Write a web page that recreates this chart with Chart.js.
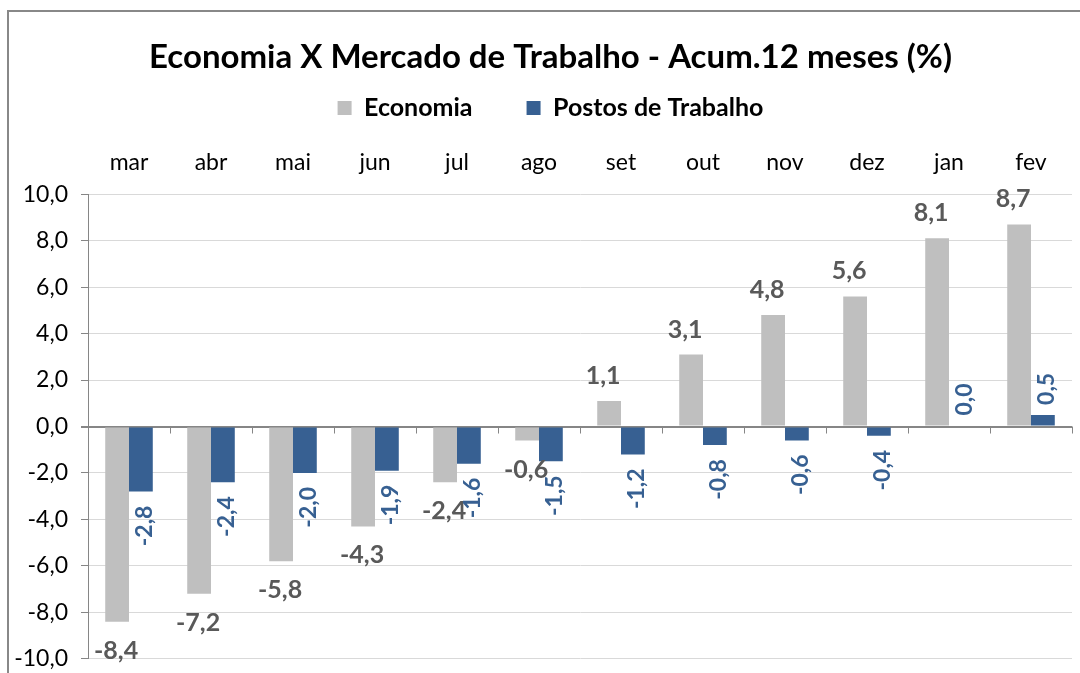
<!DOCTYPE html>
<html>
<head>
<meta charset="utf-8">
<script src="https://cdn.jsdelivr.net/npm/chart.js@4"></script>
<style>
  html, body { margin: 0; padding: 0; background: #fff; }
  #wrap { position: absolute; left: 0; top: 0; width: 1080px; height: 673px; }
  #frame { position: absolute; left: 7px; top: 10px; right: 0; bottom: 0; border-left: 2px solid #888; border-top: 2px solid #888; }
  canvas { position: absolute; left: 0; top: 0; }
</style>
</head>
<body>
<div id="wrap">
  <div id="frame"></div>
  <canvas id="chart" width="1080" height="673"></canvas>
</div>
<script>
const months = ["mar", "abr", "mai", "jun", "jul", "ago", "set", "out", "nov", "dez", "jan", "fev"];
const economia = [-8.4, -7.2, -5.8, -4.3, -2.4, -0.6, 1.1, 3.1, 4.8, 5.6, 8.1, 8.7];
const postos = [-2.8, -2.4, -2.0, -1.9, -1.6, -1.5, -1.2, -0.8, -0.6, -0.4, 0.04, 0.5];

const fmt = v => v.toFixed(1).replace('.', ',');
const FONT = 'Lato, "Open Sans", sans-serif';

// value labels and the small tick marks under the zero line
const extras = {
  id: 'extras',
  afterLayout(chart) {
    // y labels hang out to the left of the narrowed axis box, so widen its clip
    chart.scales.y.left = 0;
  },
  afterDatasetsDraw(chart) {
    const ctx = chart.ctx;
    const x = chart.scales.x, y = chart.scales.y;
    const y0 = y.getPixelForValue(0);

    ctx.save();
    ctx.strokeStyle = '#868686';
    ctx.lineWidth = 1;
    const step = (x.right - x.left) / months.length;
    for (let i = 1; i <= months.length; i++) {
      const px = Math.round(x.left + i * step) + 0.5;
      ctx.beginPath();
      ctx.moveTo(px, y0);
      ctx.lineTo(px, y0 + 7);
      ctx.stroke();
    }

    // economia
    ctx.font = 'bold 25px ' + FONT;
    ctx.fillStyle = '#595959';
    ctx.textAlign = 'center';
    ctx.textBaseline = 'middle';
    chart.getDatasetMeta(0).data.forEach((bar, i) => {
      const v = economia[i];
      if (v >= 0) ctx.fillText(fmt(v), bar.x - 6, bar.y - 25);
      else ctx.fillText(fmt(v), bar.x - 1, bar.y + 29);
    });

    // postos, rotated
    ctx.font = 'bold 23px ' + FONT;
    ctx.fillStyle = '#376092';
    chart.getDatasetMeta(1).data.forEach((bar, i) => {
      const v = postos[i];
      const t = fmt(v);
      const w = ctx.measureText(t).width;
      const cy = v >= 0 ? bar.y - 10 - w / 2 : bar.y + 14 + w / 2;
      ctx.save();
      ctx.translate(bar.x + 4, cy);
      ctx.rotate(-Math.PI / 2);
      ctx.fillText(t, 0, 0);
      ctx.restore();
    });
    ctx.restore();
  }
};

new Chart(document.getElementById('chart'), {
  type: 'bar',
  data: {
    labels: months,
    datasets: [
      { label: 'Economia', data: economia, backgroundColor: '#bfbfbf' },
      { label: 'Postos de Trabalho', data: postos, backgroundColor: '#376092' }
    ]
  },
  options: {
    responsive: false,
    animation: false,
    events: [],
    categoryPercentage: 0.58,
    barPercentage: 1.0,
    layout: { padding: { left: 29, right: 8, top: 38, bottom: -20 } },
    plugins: {
      title: {
        display: true,
        text: 'Economia X Mercado de Trabalho - Acum.12 meses (%)',
        color: '#000',
        font: { family: FONT, size: 33, weight: 'bold' },
        padding: { top: 0, bottom: -36 }
      },
      legend: {
        position: 'top',
        labels: {
          color: '#000',
          font: { family: FONT, size: 25, weight: 'bold' },
          boxWidth: 14,
          boxHeight: 14,
          padding: 54
        }
      },
      tooltip: { enabled: false }
    },
    scales: {
      x: {
        position: 'top',
        grid: { display: false, drawTicks: false },
        border: { display: false },
        title: { display: true, text: '', font: { size: 10 }, padding: { top: 0, bottom: -12 } },
        ticks: { color: '#000', font: { family: FONT, size: 23 }, padding: 18 }
      },
      y: {
        min: -10,
        max: 10,
        afterFit: scale => { scale.width = 59; },
        ticks: {
          stepSize: 2,
          color: '#000',
          font: { family: FONT, size: 23, lineHeight: 0.1 },
          padding: 13,
          callback: v => fmt(v)
        },
        grid: {
          color: ctx => ctx.tick && ctx.tick.value === 0 ? '#868686' : '#d9d9d9',
          lineWidth: ctx => ctx.tick && ctx.tick.value === 0 ? 2 : 1,
          tickColor: '#868686',
          tickLength: 7
        },
        border: { color: '#868686' }
      }
    }
  },
  plugins: [extras]
});
</script>
</body>
</html>
